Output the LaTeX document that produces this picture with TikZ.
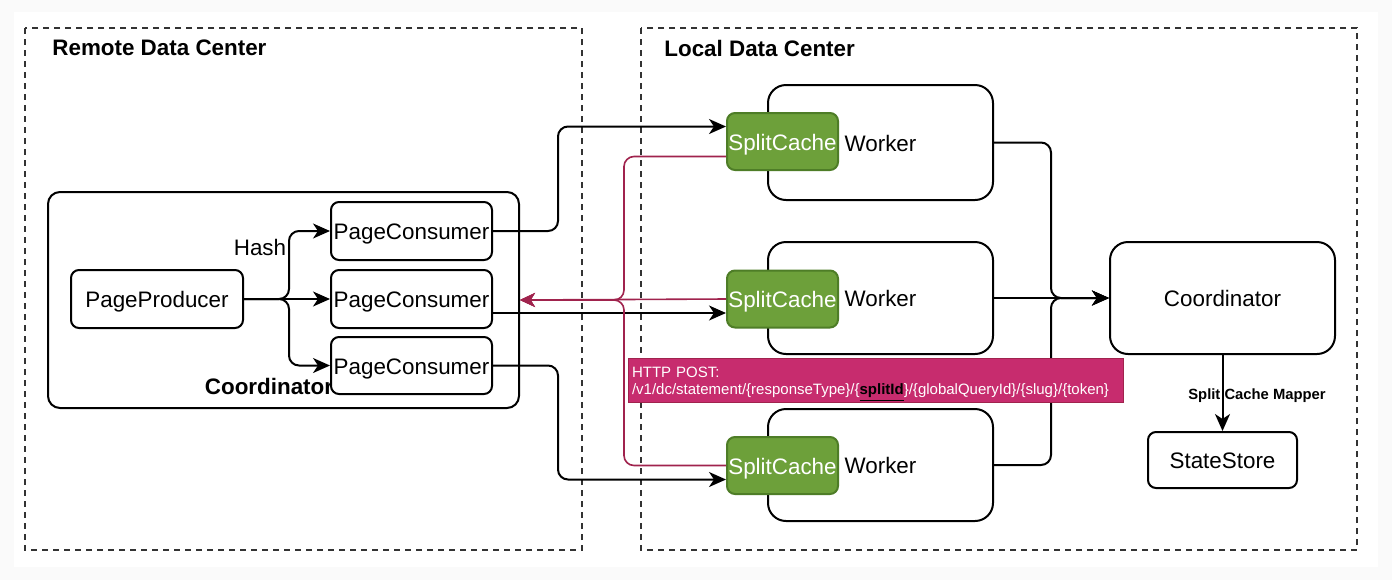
\documentclass[tikz,border=0pt]{standalone}
\usepackage{fontspec}
\setmainfont{Liberation Sans}
\usetikzlibrary{arrows.meta}
\definecolor{cachegreen}{HTML}{6DA03A}
\definecolor{cacheborder}{HTML}{4E7D27}
\definecolor{postline}{HTML}{A0234D}
\definecolor{postfill}{HTML}{C72C6E}
\definecolor{dcline}{HTML}{333333}

\begin{document}
\begin{tikzpicture}[x=0.5pt,y=-0.5pt,
    every node/.style={font=\fontsize{11.2}{13}\selectfont},
    box/.style={draw,line width=1pt,rounded corners=4pt,fill=white,inner sep=0pt,text height=8.8pt,text depth=0pt},
    bigbox/.style={box,rounded corners=9pt,minimum width=112.5pt},
    cache/.style={box,fill=cachegreen,draw=cacheborder,text=white,minimum width=55.5pt,minimum height=28.5pt},
    dc/.style={draw=dcline,line width=0.8pt,dash pattern=on 3pt off 2.5pt},
    flow/.style={line width=1pt,rounded corners=5pt,-{Stealth[length=8.5pt,width=7.5pt,inset=2.5pt]}},
    post/.style={draw=postline,line width=0.8pt,rounded corners=5pt,-{Stealth[length=7.5pt,width=7pt,inset=2.2pt]}}]
    \fill[black!2] (0,0) rectangle (1392,580);
    \fill[white] (14,12) rectangle (1378,567);

    \draw[dc] (25,28) rectangle (582,550);
    \draw[dc] (641,28) rectangle (1357,550);
    \node (remote) at (50,48) [anchor=west,inner sep=1pt,font=\fontsize{11.2}{13}\selectfont\bfseries] {Remote Data Center};
    \node (local) at (662,48) [anchor=west,inner sep=1pt,font=\fontsize{11.2}{13}\selectfont\bfseries] {Local Data Center};

    \node (lc) at (283.5,300) [box,rounded corners=6pt,minimum width=235.5pt,minimum height=108pt] {};
    \node (lclabel) at (269,386) [font=\fontsize{11.2}{13}\selectfont\bfseries] {Coordinator};
    \node (pp) at (157,299) [box,minimum width=86pt,minimum height=29pt] {PageProducer};
    \node (pc1) at (411.5,231) [box,minimum width=80.5pt,minimum height=29pt] {PageConsumer};
    \node (pc2) at (411.5,299) [box,minimum width=80.5pt,minimum height=29pt] {PageConsumer};
    \node (pc3) at (411.5,365.5) [box,minimum width=80.5pt,minimum height=28.5pt] {PageConsumer};
    \node (hash) at (260,247) {Hash};

    \node (w1) at (880.5,142.5) [bigbox,minimum height=57.5pt] {Worker};
    \node (w2) at (880.5,298) [bigbox,minimum height=56pt] {Worker};
    \node (w3) at (880.5,465) [bigbox,minimum height=56pt] {Worker};
    \node (sc1) at (782.5,141.5) [cache] {SplitCache};
    \node (sc2) at (782.5,299) [cache] {SplitCache};
    \node (sc3) at (782.5,465.5) [cache] {SplitCache};

    \node (rc) at (1222.5,298) [bigbox,minimum height=56pt] {Coordinator};
    \node (ss) at (1222.5,460) [box,minimum width=74.5pt,minimum height=28pt] {StateStore};

    \draw[flow] (pp.east) -- ++(45,0) |- (pc1.west);
    \draw[flow] (pp.east) -- (pc2.west);
    \draw[flow] (pp.east) -- ++(45,0) |- (pc3.west);

    \draw[flow] (pc1.east) -- ++(65,0) |- ([yshift=7.5pt]sc1.west);
    \draw[flow] ([yshift=-7pt]pc2.east) -- ([yshift=-7pt]sc2.west);
    \draw[flow] (pc3.east) -- ++(65,0) |- ([yshift=-7pt]sc3.west);

    \draw[post] ([yshift=-7.5pt]sc1.west) -- ++(-102,0) |- (lc.east);
    \draw[post] (sc2.west) -- (lc.east);
    \draw[post] (sc3.west) -- ++(-102,0) |- (lc.east);

    \draw[flow] (w1.east) -- ++(57,0) |- (rc.west);
    \draw[flow] (w2.east) -- (rc.west);
    \draw[flow] (w3.east) -- ++(57,0) |- (rc.west);

    \draw[flow] (rc.south) -- (ss.north);
    \node (mapper) at (1257,396) [font=\fontsize{7.4}{9}\selectfont\bfseries] {Split Cache Mapper};

    \node (http) at (875.5,380) [draw=postline,fill=postfill,text=white,line width=0.5pt,inner xsep=2pt,inner ysep=0pt,text width=243.5pt,minimum height=22pt,align=left,font=\fontsize{7.5}{8.5}\selectfont] {\rule{0pt}{9.5pt}HTTP POST:\\/v1/dc/statement/\{responseType\}/\{\textcolor{black}{\underline{\textbf{splitId}}}\}/\{globalQueryId\}/\{slug\}/\{token\}};
\end{tikzpicture}
\end{document}
